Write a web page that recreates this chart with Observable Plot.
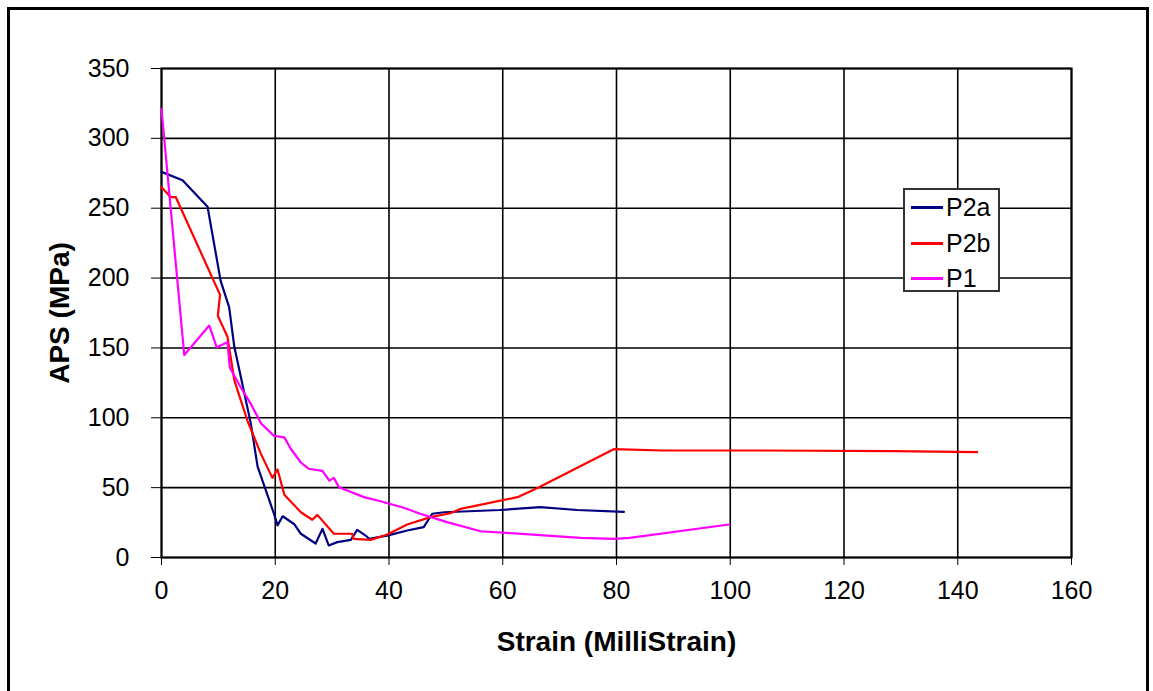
<!DOCTYPE html>
<html><head><meta charset="utf-8">
<script src="https://cdn.jsdelivr.net/npm/d3@7"></script>
<script src="https://cdn.jsdelivr.net/npm/@observablehq/plot@0.6"></script>
<style>
body{margin:0;background:#fff;}
#wrap{position:relative;width:1153px;height:691px;overflow:hidden;font-family:"Liberation Sans",Arial,sans-serif;}
#chart{position:absolute;left:0;top:0;}
#border{position:absolute;left:7px;top:7px;width:1142px;height:720px;border:3px solid #000;box-sizing:border-box;pointer-events:none;}
#legend{position:absolute;left:903px;top:188px;width:97px;height:104px;border:2px solid #333;background:#fff;box-sizing:border-box;}
#legend .item{position:absolute;left:4px;height:30px;width:90px;}
#legend .sw{position:absolute;left:2px;top:14px;width:32px;height:3px;}
#legend .lb{position:absolute;left:37px;top:0;font-size:25px;line-height:30px;color:#000;}
svg [aria-label="x-axis label"] text, svg [aria-label="y-axis label"] text{font-weight:bold;font-size:28px;}
</style></head>
<body>
<div id="wrap">
  <div id="chart"></div>
  <div id="legend"></div>
  <div id="border"></div>
</div>
<script>
const xTicks = [0, 20, 40, 60, 80, 100, 120, 140, 160];
const yTicks = [0, 50, 100, 150, 200, 250, 300, 350];
const xTitle = "Strain (MilliStrain)";
const yTitle = "APS (MPa)";
const seriesNames = ["P2a", "P2b", "P1"];
const seriesColors = ["#000080", "#FF0000", "#FF00FF"];

const p2aStrain = [0, 3.7, 8.1, 10.4, 11.9, 12.8, 15.7, 16.9, 19.8, 20.4, 21.3, 23.3, 24.5, 27.1, 28.3, 29.4, 30.9, 33.3, 34.4, 35.9, 36.5, 39.7, 43.2, 46.1, 47.6, 49.7, 59.5, 66.6, 73.1, 81.3];
const p2aAps    = [276, 270, 251, 198, 179, 151, 96, 65, 31, 23, 29.5, 24, 17, 10, 20.5, 8.6, 11, 12.6, 19.8, 15.7, 13.4, 15.7, 19.3, 21.7, 31.3, 32.4, 34, 36, 34, 32.6];

const p2bStrain = [0, 1.6, 2.5, 10.3, 9.9, 11.6, 12.8, 15.1, 17.5, 19.5, 20.4, 21.6, 24.5, 26.5, 27.4, 30.3, 33.5, 33.8, 36.8, 39.7, 43.2, 47.3, 50.8, 52.6, 62.6, 66.2, 79.5, 88.1, 105.3, 128.8, 143.4];
const p2bAps    = [265, 258, 258, 188, 173, 158, 127, 98, 74, 57, 63, 45, 32.4, 27, 30.5, 17, 17, 13.4, 12.6, 16.5, 23.6, 28.9, 31.7, 34.8, 43.2, 49.9, 77.5, 76.6, 76.6, 76.1, 75.4];

const p1Strain = [0, 4.0, 8.4, 9.7, 11.6, 12.0, 13.9, 15.7, 17.5, 19.8, 21.6, 22.7, 24.5, 25.9, 28.3, 29.5, 30.3, 31.2, 35.6, 38.5, 42.6, 45.5, 50.2, 56.1, 61.4, 73.7, 79.6, 82.3, 99.8];
const p1Aps    = [321, 145, 166, 150.5, 154, 136, 122, 110, 96, 87, 86, 78, 68, 63.5, 62, 55, 57, 50.3, 43.2, 40.3, 35.6, 31.3, 25.3, 18.8, 17.4, 14.1, 13.4, 14.1, 23.6];

const toRows = (xs, ys, name) => xs.map((x, i) => ({strain: x, aps: ys[i], series: name}));
const rows = [
  ...toRows(p2aStrain, p2aAps, "P2a"),
  ...toRows(p2bStrain, p2bAps, "P2b"),
  ...toRows(p1Strain, p1Aps, "P1")
];

const chart = Plot.plot({
  width: 1153,
  height: 691,
  marginLeft: 161,
  marginRight: 82,
  marginTop: 68,
  marginBottom: 134,
  style: {fontFamily: "'Liberation Sans', Arial, sans-serif", fontSize: "25px", color: "#000", background: "transparent"},
  x: {domain: [0, 160]},
  y: {domain: [0, 350]},
  color: {domain: seriesNames, range: seriesColors},
  marks: [
    Plot.gridX(xTicks, {stroke: "#000", strokeOpacity: 1, strokeWidth: 1.6}),
    Plot.gridY(yTicks, {stroke: "#000", strokeOpacity: 1, strokeWidth: 1.6}),
    Plot.frame({stroke: "#000", strokeWidth: 2}),
    Plot.axisX({ticks: xTicks, tickSize: 8, tickPadding: 16, fontSize: 25, label: xTitle, labelAnchor: "center", labelOffset: 93, labelArrow: "none"}),
    Plot.axisY({ticks: yTicks, tickSize: 10, tickPadding: 22, fontSize: 25, label: yTitle, labelAnchor: "center", labelOffset: 112, labelArrow: "none"}),
    Plot.line(rows, {x: "strain", y: "aps", z: "series", stroke: "series", strokeWidth: 2.2, curve: "linear"})
  ]
});
document.getElementById("chart").appendChild(chart);

const legend = document.getElementById("legend");
seriesNames.forEach((name, i) => {
  const item = document.createElement("div");
  item.className = "item";
  item.style.top = (2 + i * 35.5) + "px";
  item.innerHTML = `<div class="sw" style="background:${seriesColors[i]}"></div><div class="lb">${name}</div>`;
  legend.appendChild(item);
});
</script>
</body></html>
